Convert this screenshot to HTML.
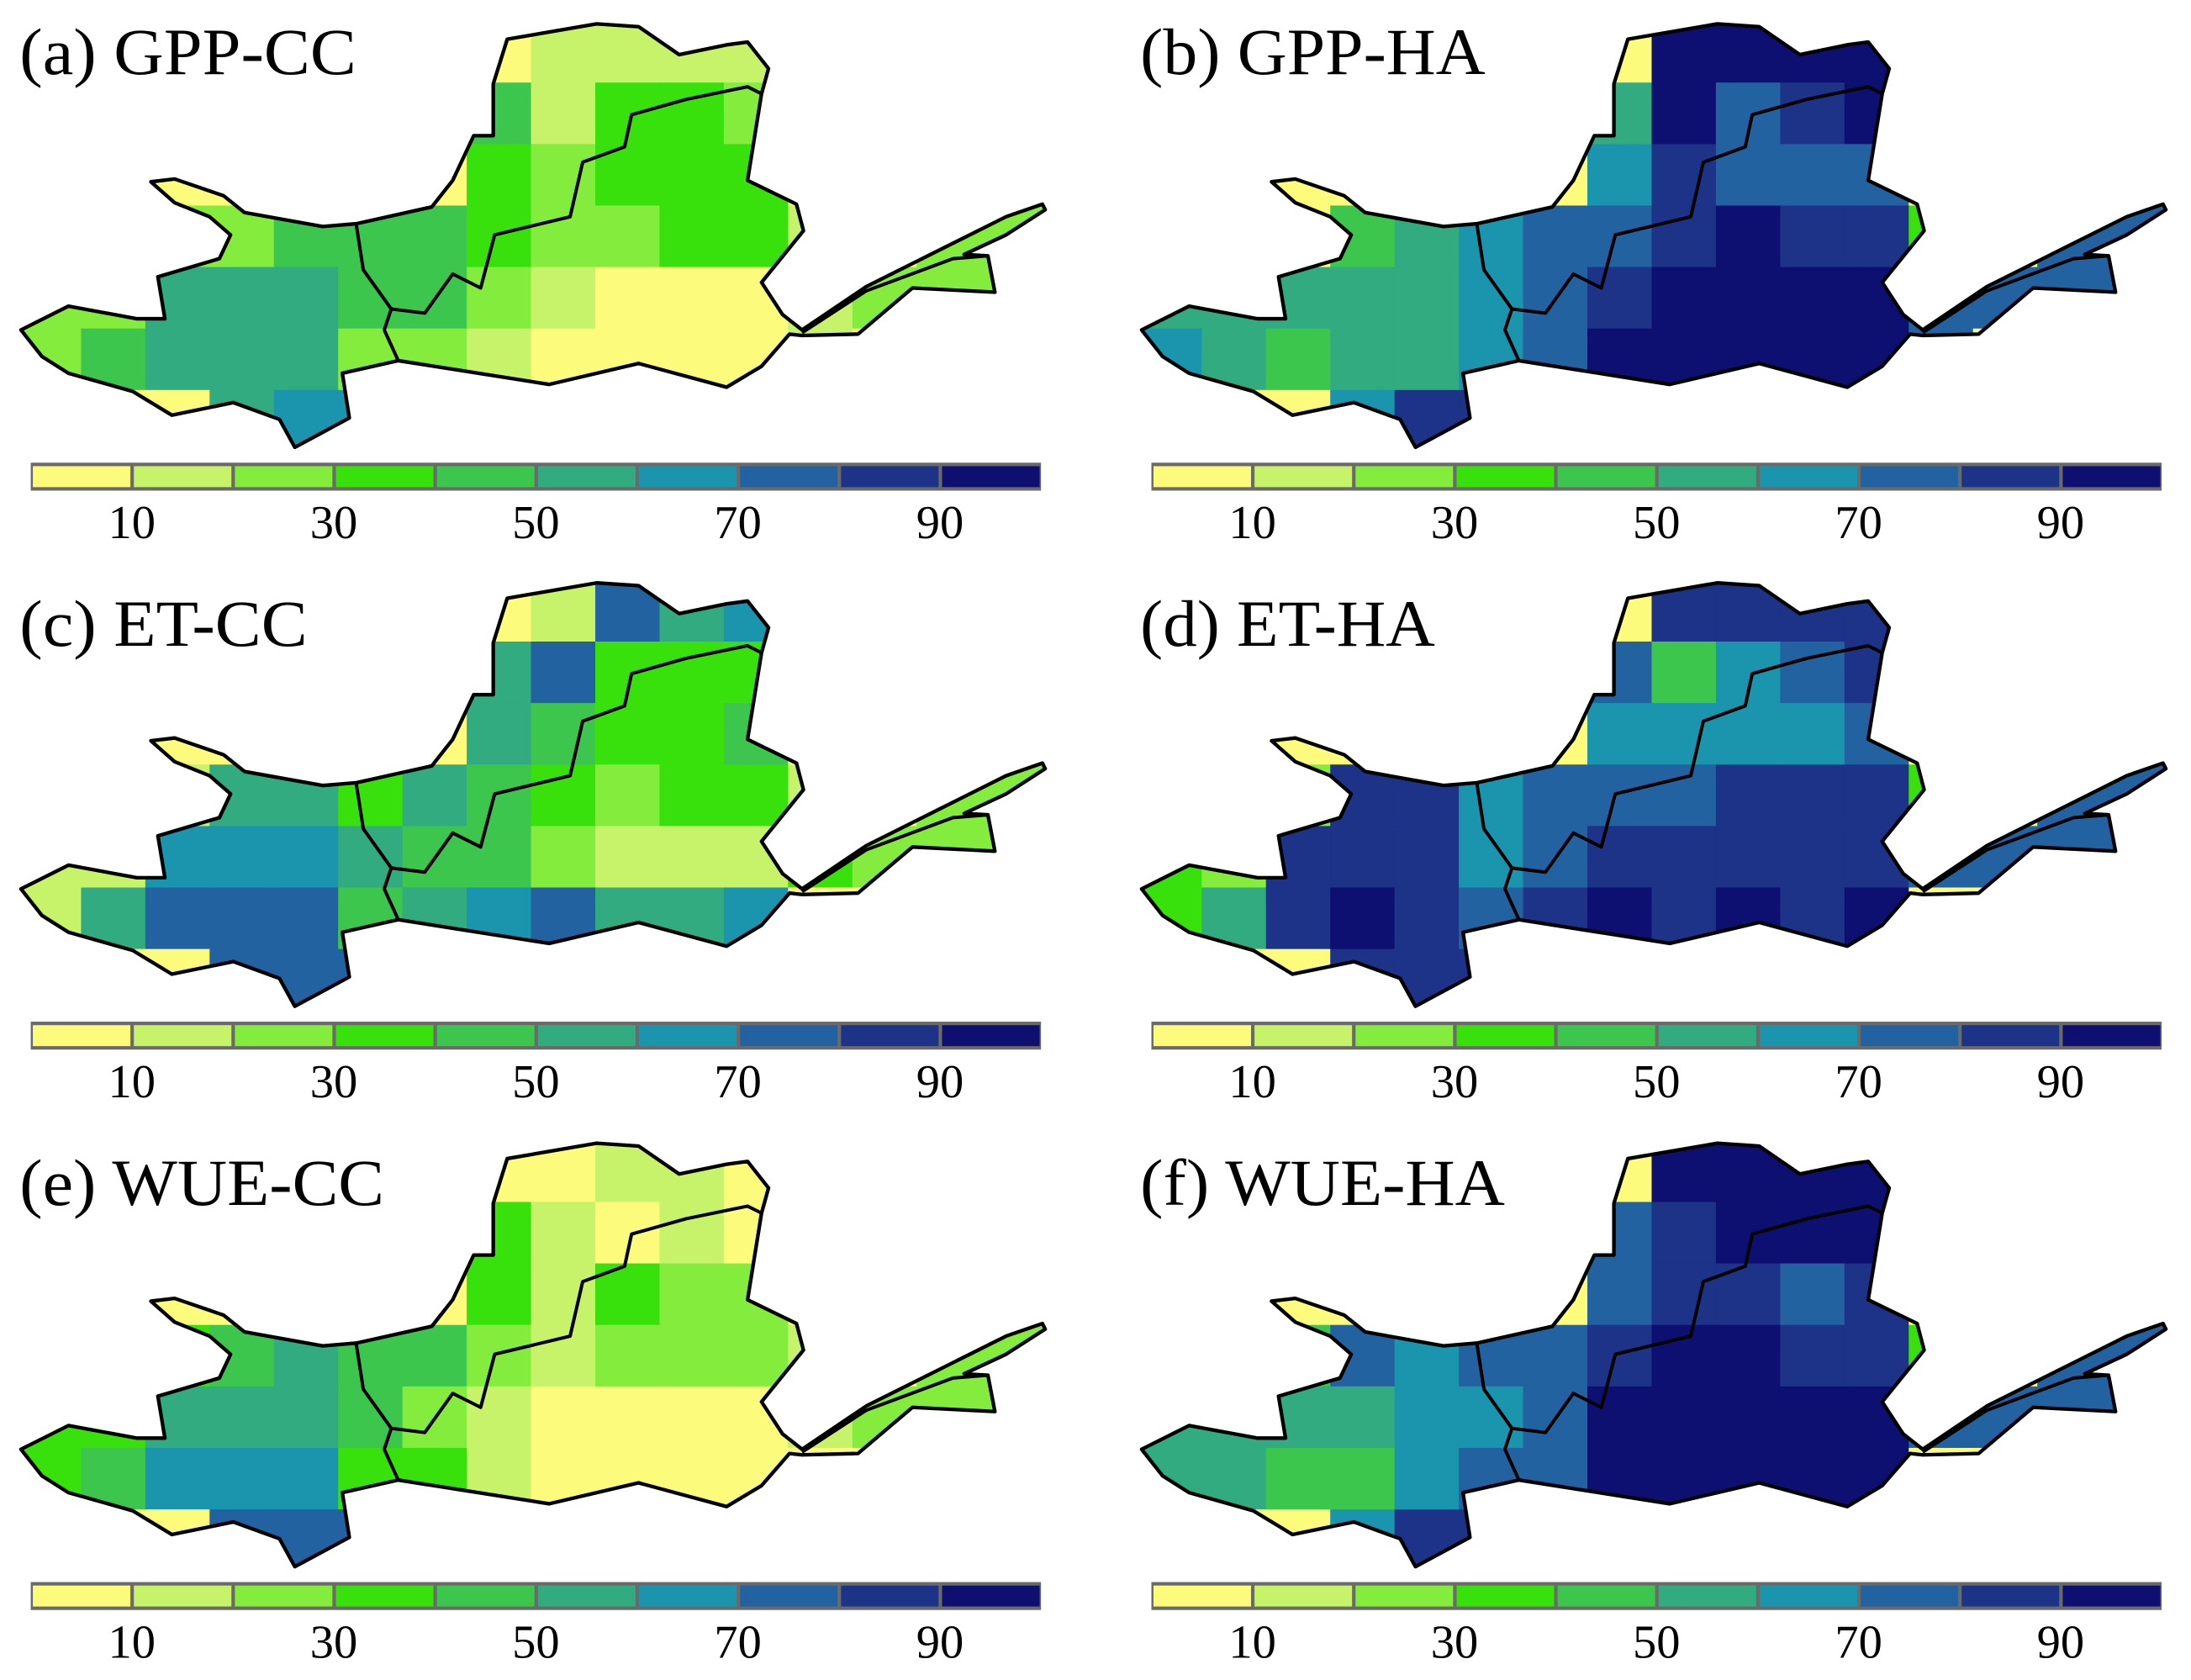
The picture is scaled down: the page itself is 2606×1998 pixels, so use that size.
<!DOCTYPE html>
<html><head><meta charset="utf-8"><style>html,body{margin:0;padding:0;background:#fff}svg{display:block}</style></head>
<body>
<svg id="fig" xmlns="http://www.w3.org/2000/svg" width="2606" height="1998" viewBox="0 0 1568 1202">
<rect width="1568" height="1202" fill="#fff"/>
</svg>
<script>
const classColors = ["#fdfb7c","#c7f36b","#84ec3c","#38e00c","#3cc64e","#32ab80","#1a95ad","#2362a0","#1c3388","#0d1070"];
const tickLabels = ["10","30","50","70","90"];
const tickClassBoundaries = [1,3,5,7,9];
const panelTitles = ["(a) GPP-CC","(b) GPP-HA","(c) ET-CC","(d) ET-HA","(e) WUE-CC","(f) WUE-HA"];
const titleWidths = [241,247,206,211,261,261];
// coarse decile-class grids (16 cols x 7 rows) per panel
const gridA = ["0000000011110000","0000000413320000","0000000323330000","0022444322331022","2255544210001222","2455522100001000","0005660000000000"];
const gridB = ["0000000099990000","0000000597890000","0000000687770000","0004567789883077","5555567899997777","6545567999997000","0006880000000000"];
const gridC = ["0000000017560000","0000000573330000","0000000543340000","0015535432331022","1166654421113222","1577745675560000","0007770000000000"];
const gridD = ["0000000088880000","0000000746780000","0000000666670000","0028867778883077","3288867888887777","3589878989890000","0008880000000000"];
const gridE = ["0000000001100000","0000000310100000","0000000313220000","0034544212221022","3355542100001222","3466633100000000","0007770000000000"];
const gridF = ["0000000099990000","0000000789990000","0000000788780000","0047677899883077","5555667999997777","5544677999990000","0006880000000000"];
const grids = [gridA,gridB,gridC,gridD,gridE,gridF];

const NS="http://www.w3.org/2000/svg";
const svg=document.getElementById('fig');
const outline=[[15,236],[49,219],[98,228],[118,228],[113,198],[157,185],[165,168],[150,155],[125,145],[108,130],[125,128],[160,140],[175,152],[231,162],[255,160],[309,148],[324,129],[339,97],[353,97],[353,60],[363,28],[427,17],[457,19],[486,39],[520,32],[535,30],[550,49],[545,67],[535,129],[570,146],[575,165],[545,202],[560,225],[574,236],[620,205],[680,175],[720,155],[746,146],[748,150],[720,168],[690,182],[707,183],[712,209],[653,206],[614,239],[574,240],[565,239],[545,262],[520,277],[457,260],[393,275],[285,258],[245,267],[250,299],[211,320],[200,300],[167,288],[123,297],[95,280],[49,267],[30,255]];
const inner1=[[255,161],[260,193],[280,221],[275,236],[285,258]];
const inner2=[[280,221],[304,224],[324,196],[344,206],[354,168],[408,155],[417,116],[447,105],[452,82],[491,71],[535,62],[545,67]];
const inner3=[[574,238],[620,208],[682,185],[707,183]];
const X0=12,Y0=15,CW=46,CH=44;
function el(t,a,p){const e=document.createElementNS(NS,t);for(const k in a)e.setAttribute(k,a[k]);(p||svg).appendChild(e);return e;}
const pts=a=>a.map(p=>p.join(',')).join(' ');
for(let i=0;i<6;i++){
  const dx=(i%2)*802, dy=[0,400,801][Math.floor(i/2)];
  const g=el('g',{transform:`translate(${dx},${dy})`});
  
  
  const cp=el('clipPath',{id:'clip'+i},g);
  el('polygon',{points:pts(outline)},cp);
  const cells=el('g',{'clip-path':`url(#clip${i})`},g);
  
  
  grids[i].forEach((row,r)=>{[...row].forEach((ch,c)=>{
    const v=+ch;
    const rc=el('rect',{x:X0+c*CW,y:Y0+r*CH,width:CW+0.5,height:CH+0.5,fill:classColors[v]},cells);
    
    
  });});
  const ol=el('polygon',{points:pts(outline),fill:'none',stroke:'#000','stroke-width':2.6,'stroke-linejoin':'round'},g);
  
  
  [inner1,inner2,inner3].forEach(l=>{
    const pl=el('polyline',{points:pts(l),fill:'none',stroke:'#000','stroke-width':2.4,'stroke-linejoin':'round'},g);
    
    
  });
  const t=el('text',{x:14,y:(i<2?53:i<4?62:61),'font-family':'Liberation Serif, serif','font-size':47,fill:'#000',textLength:titleWidths[i],lengthAdjust:'spacingAndGlyphs'},g);
  t.textContent=panelTitles[i];
  
  
  // colorbar
  const cb=el('g',{},g);
  
  
  const bx=22,bw=723,by=331,bh=20,sw=bw/10;
  el('rect',{x:bx,y:by,width:bw,height:bh,fill:'#6a6a6a'},cb);
  classColors.forEach((col,k)=>{
    const s=el('rect',{x:bx+k*sw+1.5,y:by+2.5,width:sw-2.5,height:bh-5,fill:col},cb);
    
    
  });
  tickLabels.forEach((lab,k)=>{
    const tx=el('text',{x:bx+tickClassBoundaries[k]*sw,y:385,'text-anchor':'middle','font-family':'Liberation Serif, serif','font-size':34,fill:'#000'},cb);
    tx.textContent=lab;
    
    
  });
}
</script>
</body></html>
